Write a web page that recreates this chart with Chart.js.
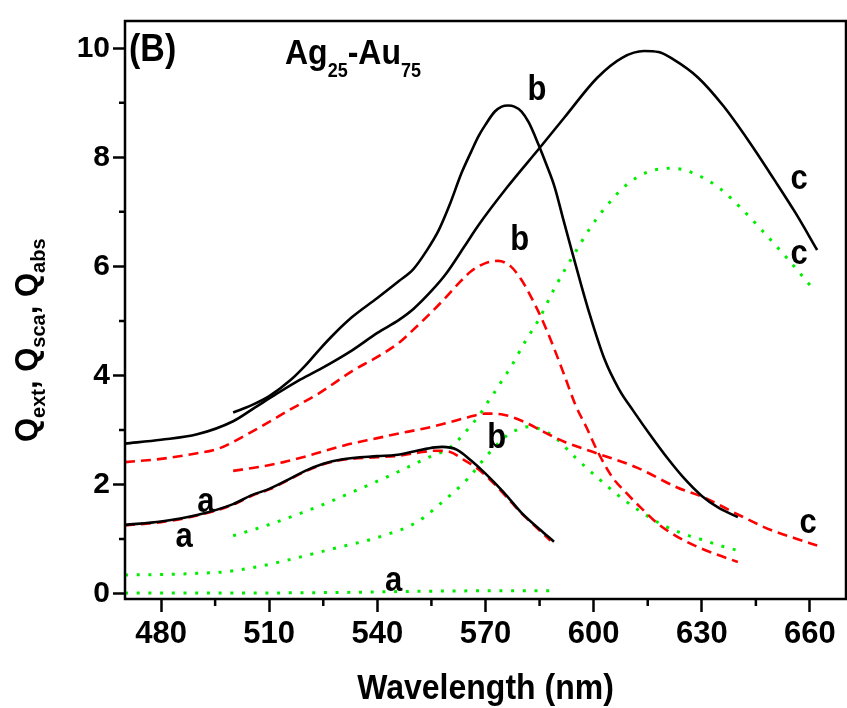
<!DOCTYPE html>
<html>
<head>
<meta charset="utf-8">
<script src="https://cdn.jsdelivr.net/npm/chart.js@4.4.1/dist/chart.umd.min.js"></script>
<style>
  html, body { margin: 0; padding: 0; background: #fff; }
  #wrap { width: 847px; height: 708px; position: relative; }
</style>
</head>
<body>
<div id="wrap"><canvas id="spectra"></canvas></div>
<script>
// ---- axis ticks ----
const xTicks = [480, 510, 540, 570, 600, 630, 660];
const yTicks = [0, 2, 4, 6, 8, 10];
const xMinor = [495, 525, 555, 585, 615, 645];
const yMinor = [1, 3, 5, 7, 9];

// ---- curve a ----
const wlExtA = [470, 480, 490, 500, 505, 510, 515, 520, 525, 530, 540, 545, 551, 556, 558, 562, 566, 570, 575, 580, 585, 589];
const qExtA  = [1.26, 1.32, 1.44, 1.64, 1.80, 1.92, 2.08, 2.25, 2.38, 2.46, 2.52, 2.54, 2.62, 2.68, 2.69, 2.64, 2.44, 2.20, 1.86, 1.48, 1.18, 0.95];
const wlScaA = [470, 480, 490, 500, 505, 510, 515, 520, 525, 530, 540, 545, 551, 556, 560, 564, 568, 572, 576, 580, 584, 588];
const qScaA  = [1.25, 1.31, 1.43, 1.63, 1.79, 1.91, 2.07, 2.24, 2.37, 2.45, 2.50, 2.52, 2.58, 2.62, 2.60, 2.45, 2.28, 2.04, 1.76, 1.47, 1.22, 0.97];
const wlAbsA = [470, 500, 530, 550, 570, 589];
const qAbsA  = [0.01, 0.01, 0.02, 0.04, 0.05, 0.05];

// ---- curve b ----
const wlExtB = [500, 505, 510, 516, 520, 524, 528, 533, 540, 546, 550, 553.5, 557, 560, 563.4, 566, 568, 570, 572.6, 574.5, 576.3, 578, 580, 582, 584.6, 587, 589.2, 591.5, 594, 596.5, 599, 603, 607, 611, 616, 620.5, 625, 630, 634.5, 640];
const qExtB  = [3.32, 3.45, 3.62, 3.92, 4.18, 4.48, 4.76, 5.07, 5.42, 5.73, 5.95, 6.27, 6.66, 7.12, 7.72, 8.10, 8.38, 8.60, 8.84, 8.93, 8.95, 8.93, 8.84, 8.64, 8.25, 7.85, 7.45, 6.88, 6.27, 5.67, 5.10, 4.30, 3.75, 3.35, 2.88, 2.48, 2.12, 1.79, 1.58, 1.40];
const wlScaB = [470, 480, 487, 496, 500, 505, 510, 516, 524, 533, 540, 546, 550, 555, 559, 563, 566, 570, 573.5, 577, 580, 582, 586, 589, 592, 595, 598, 601, 605, 609, 613, 618, 623, 629, 634, 640];
const qScaB  = [2.41, 2.47, 2.54, 2.66, 2.78, 2.96, 3.15, 3.38, 3.68, 4.08, 4.34, 4.60, 4.84, 5.16, 5.43, 5.72, 5.91, 6.06, 6.10, 6.00, 5.75, 5.52, 4.98, 4.50, 3.98, 3.45, 3.05, 2.62, 2.15, 1.85, 1.58, 1.27, 1.05, 0.85, 0.72, 0.58];
const wlAbsB = [470, 480, 490, 498, 505, 511, 518, 524, 530, 537, 543, 549, 553, 557, 561, 565, 570, 573, 576, 579, 582, 585, 589, 592, 595, 601, 607, 614, 620, 626, 630, 635, 640];
const qAbsB  = [0.34, 0.35, 0.37, 0.40, 0.47, 0.55, 0.66, 0.76, 0.86, 0.97, 1.09, 1.24, 1.40, 1.62, 1.85, 2.10, 2.50, 2.72, 2.90, 3.01, 3.06, 3.02, 2.88, 2.69, 2.49, 2.13, 1.79, 1.46, 1.23, 1.07, 0.99, 0.88, 0.79];

// ---- curve c ----
const wlExtC = [470, 480, 490, 500, 506, 512, 518, 524, 533, 540, 546, 550, 555, 559, 564, 568, 576, 585, 592, 601, 608, 614, 618, 622, 629, 636, 643, 650, 656, 662];
const qExtC  = [2.75, 2.82, 2.92, 3.16, 3.41, 3.66, 3.90, 4.11, 4.46, 4.78, 5.02, 5.22, 5.55, 5.86, 6.35, 6.75, 7.45, 8.17, 8.74, 9.46, 9.83, 9.95, 9.93, 9.80, 9.46, 8.94, 8.30, 7.60, 6.98, 6.30];
const wlScaC = [500, 507, 514, 522, 531, 540, 547, 554, 560, 565, 570, 575, 581, 586, 592, 601, 612, 623, 631, 640, 649, 656, 662];
const qScaC  = [2.25, 2.32, 2.41, 2.55, 2.72, 2.85, 2.95, 3.04, 3.14, 3.23, 3.30, 3.28, 3.14, 2.97, 2.78, 2.57, 2.31, 1.95, 1.75, 1.45, 1.17, 1.01, 0.88];
const wlAbsC = [500, 506, 512, 519, 526, 533, 540, 546, 551, 555, 558, 561, 564, 566.5, 569, 571, 573, 575, 577, 581, 585, 589, 595, 599, 603, 609, 615, 622, 628, 635, 641, 647, 653, 661];
const qAbsC  = [1.06, 1.18, 1.31, 1.48, 1.66, 1.86, 2.06, 2.24, 2.40, 2.52, 2.60, 2.72, 2.93, 3.12, 3.34, 3.55, 3.74, 3.95, 4.15, 4.62, 5.05, 5.58, 6.27, 6.70, 7.06, 7.49, 7.73, 7.80, 7.70, 7.43, 7.06, 6.64, 6.20, 5.58];

// curve letters, placed in data units
const curveLabels = [
  { text: 'b', x: 584.3, y: 9.23 },
  { text: 'b', x: 579.5, y: 6.48 },
  { text: 'b', x: 573.1, y: 2.84 },
  { text: 'c', x: 657.0, y: 7.59 },
  { text: 'c', x: 657.0, y: 6.21 },
  { text: 'c', x: 659.5, y: 1.28 },
  { text: 'a', x: 492.4, y: 1.67 },
  { text: 'a', x: 486.4, y: 1.03 },
  { text: 'a', x: 544.5, y: 0.22 }
];

const BLACK = '#000000';
const RED = '#ff0000';
const GREEN = '#00ee00';
const FONT = "'Liberation Sans', Arial, Helvetica, sans-serif";
const STRETCH = 1.12; // glyphs in this figure run a little tall

function pts(xs, ys) {
  return xs.map((x, i) => ({ x: x, y: ys[i] }));
}

function solid(xs, ys) {
  return { data: pts(xs, ys), borderColor: BLACK, borderWidth: 2.6 };
}
function dashed(xs, ys) {
  return { data: pts(xs, ys), borderColor: RED, borderWidth: 2.6, borderDash: [10, 6] };
}
function dotted(xs, ys) {
  return { data: pts(xs, ys), borderColor: GREEN, borderWidth: 3, borderDash: [3, 8.7] };
}

// text with subscripts: runs of [text, size, baseline shift]
function drawRuns(ctx, x, y, runs) {
  let cx = x;
  runs.forEach(([t, size, dy]) => {
    ctx.font = `bold ${size}px ${FONT}`;
    ctx.fillText(t, cx, y + dy);
    cx += ctx.measureText(t).width;
  });
}

// single string, stretched vertically around its anchor
function tallText(ctx, t, x, y) {
  ctx.save();
  ctx.translate(x, y);
  ctx.scale(1, STRETCH);
  ctx.fillText(t, 0, 0);
  ctx.restore();
}

const decorations = {
  id: 'decorations',
  afterDraw(chart) {
    const { ctx, chartArea: a, scales: { x, y } } = chart;
    ctx.save();

    // frame
    ctx.strokeStyle = BLACK;
    ctx.lineWidth = 2.5;
    ctx.strokeRect(a.left, a.top, a.right - a.left, a.bottom - a.top);

    // minor ticks
    ctx.beginPath();
    xMinor.forEach(v => {
      const px = x.getPixelForValue(v);
      ctx.moveTo(px, a.bottom);
      ctx.lineTo(px, a.bottom + 7);
    });
    yMinor.forEach(v => {
      const py = y.getPixelForValue(v);
      ctx.moveTo(a.left, py);
      ctx.lineTo(a.left - 6, py);
    });
    ctx.stroke();

    ctx.fillStyle = BLACK;
    ctx.textBaseline = 'alphabetic';
    ctx.textAlign = 'left';

    // panel tag and composition
    ctx.font = `bold 34px ${FONT}`;
    tallText(ctx, '(B)', 129, 61);
    ctx.save();
    ctx.translate(285, 64);
    ctx.scale(1, STRETCH);
    drawRuns(ctx, 0, 0, [['Ag', 32, 0], ['25', 18, 12], ['-Au', 32, 0], ['75', 18, 12]]);
    ctx.restore();

    // curve letters
    ctx.textAlign = 'center';
    ctx.textBaseline = 'middle';
    ctx.font = `bold 31px ${FONT}`;
    curveLabels.forEach(l => {
      tallText(ctx, l.text, x.getPixelForValue(l.x), y.getPixelForValue(l.y));
    });

    // x title
    ctx.textBaseline = 'alphabetic';
    ctx.font = `bold 32px ${FONT}`;
    tallText(ctx, 'Wavelength (nm)', (a.left + a.right) / 2, 699);

    // y title, rotated
    ctx.translate(37, 442);
    ctx.rotate(-Math.PI / 2);
    ctx.textAlign = 'left';
    drawRuns(ctx, 0, 0, [
      ['Q', 31, 0], ['ext', 20, 8], [', Q', 31, 0], ['sca', 20, 8], [', Q', 31, 0], ['abs', 20, 8]
    ]);
    ctx.restore();
  }
};

new Chart(document.getElementById('spectra'), {
  type: 'line',
  data: {
    datasets: [
      solid(wlExtA, qExtA),
      solid(wlExtB, qExtB),
      solid(wlExtC, qExtC),
      dashed(wlScaA, qScaA),
      dashed(wlScaB, qScaB),
      dashed(wlScaC, qScaC),
      dotted(wlAbsA, qAbsA),
      dotted(wlAbsB, qAbsB),
      dotted(wlAbsC, qAbsC)
    ]
  },
  options: {
    responsive: true,
    maintainAspectRatio: false,
    animation: false,
    layout: { padding: { top: 13, right: 1, left: 0, bottom: 0 } },
    elements: {
      point: { radius: 0 },
      line: { cubicInterpolationMode: 'monotone', fill: false }
    },
    plugins: {
      legend: { display: false },
      tooltip: { enabled: false },
      title: { display: false }
    },
    scales: {
      x: {
        type: 'linear',
        min: 470,
        max: 670,
        afterBuildTicks: s => { s.ticks = xTicks.map(v => ({ value: v })); },
        afterFit: s => { s.height = 109; },
        border: { display: false },
        grid: { drawOnChartArea: false, drawTicks: true, tickLength: 13, tickWidth: 2.5, tickColor: BLACK },
        ticks: { color: BLACK, padding: 4, maxRotation: 0, font: { family: FONT, size: 31, weight: 'bold' } }
      },
      y: {
        type: 'linear',
        min: -0.1,
        max: 10.5,
        afterBuildTicks: s => { s.ticks = yTicks.map(v => ({ value: v })); },
        afterFit: s => { s.width = 125; },
        border: { display: false },
        grid: { drawOnChartArea: false, drawTicks: true, tickLength: 12, tickWidth: 2.5, tickColor: BLACK },
        ticks: { color: BLACK, padding: 3, font: { family: FONT, size: 30, weight: 'bold' } }
      }
    }
  },
  plugins: [decorations]
});
</script>
</body>
</html>
